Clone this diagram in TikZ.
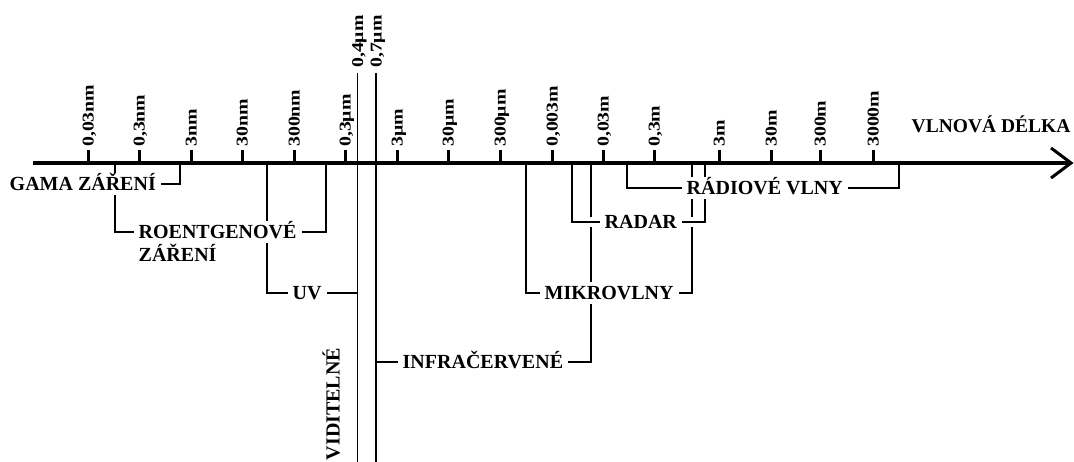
\documentclass[tikz,border=0pt]{standalone}
\usepackage{fontspec}
\setmainfont{Liberation Serif}
\newcommand{\tkl}[1]{\scalebox{1.2}[1]{#1}}
\pgfdeclarelayer{bg}
\pgfsetlayers{bg,main}
\begin{document}
\begin{tikzpicture}[x=1pt,y=-1pt,
  lab/.style={font=\fontsize{20}{17.5}\selectfont\bfseries, fill=white, inner xsep=5pt, inner ysep=4.5pt, text height=13.2pt, text depth=0pt},
  br/.style={line width=1.3pt, black},
  axisline/.style={line width=4pt, black},
  tickmark/.style={line width=3pt, black},
  ticklab/.style={rotate=90, anchor=base west, inner sep=0pt, font=\fontsize{16.5}{16.5}\selectfont\bfseries}]
\useasboundingbox (0,0) rectangle (1074,462);
\begin{pgfonlayer}{bg}
\fill[white] (0,0) rectangle (1074,462);
\end{pgfonlayer}

% labels
\node[lab, anchor=west] (gama) at (4.5,184) {GAMA ZÁŘENÍ};
\node[lab, anchor=west] (roent) at (133.5,232) {\begin{tabular}[t]{@{}l@{}}ROENTGENOVÉ\\ZÁŘENÍ\end{tabular}};
\node[lab, anchor=west] (uv) at (287.5,293) {UV};
\node[lab, anchor=west] (infra) at (397.5,362) {INFRAČERVENÉ};
\node[lab, anchor=west] (mikro) at (539.5,293) {MIKROVLNY};
\node[lab, anchor=west] (radar) at (599.5,222) {RADAR};
\node[lab, anchor=west] (radio) at (681.5,188) {RÁDIOVÉ VLNY};
\node[lab, fill=none, rotate=90] (vid) at (333,404) {VIDITELNÉ};
\node[lab, fill=none, anchor=base west, font=\fontsize{19.5}{19.5}\selectfont\bfseries] (vlnova) at (906.5,133) {VLNOVÁ DÉLKA};

% axis points
\coordinate (axL) at (33,163);
\coordinate (axR) at (1069,163);
\coordinate (tip) at (1071,163);
\coordinate (chu) at (1051,148);
\coordinate (chd) at (1051,178);
\foreach \n/\x in {a115/115,a180/180,a267/267,a326/326,a526/526,a572/572,a591/591,a627/627,a692/692,a705/705,a899/899}
  \coordinate (\n) at (\x,163);
\coordinate (v04t) at (357.5,73);
\coordinate (v04b) at (357.5,462);
\coordinate (v07t) at (376,73);
\coordinate (v07b) at (376,462);

\begin{pgfonlayer}{bg}
\draw[br] (v04t) -- (v04b);
\draw[br] (v07t) -- (v07b);
\draw[br] (a180) |- (gama.center);
\draw[br] (a115) |- (roent.center) -| (a326);
\draw[br] (a267) |- (uv.center) -| (v04t);
\draw[br] (v07t) |- (infra.center) -| (a591);
\draw[br] (a526) |- (mikro.center) -| (a692);
\draw[br] (a627) |- (radio.center) -| (a899);
\draw[br, preaction={draw=white, line width=10pt}] (a572) |- (radar.center) -| (a705);
\end{pgfonlayer}

% axis and arrow
\draw[axisline] (axL) -- (axR);
\draw[line width=3pt] (chu) -- (tip) -- (chd);

% ticks
\foreach \x/\t [count=\i] in {88/{0,03nm},139/{0,3nm},191/{3nm},242/{30nm},294/{300nm},345/{0,3μm},397/{3μm},448/{30μm},500/{300μm},552/{0,003m},603/{0,03m},654/{0,3m},719/{3m},771/{30m},820/{300m},873/{3000m}}{
  \coordinate (tk\i) at (\x,163);
  \draw[tickmark] (tk\i) -- ++(0,-13);
  \node[ticklab] (tl\i) at (\x+5.5,147) {\tkl{\t}};
}
\node[ticklab] (l04) at (363,68) {\tkl{0,4μm}};
\node[ticklab] (l07) at (381.5,68) {\tkl{0,7μm}};
\end{tikzpicture}
\end{document}
